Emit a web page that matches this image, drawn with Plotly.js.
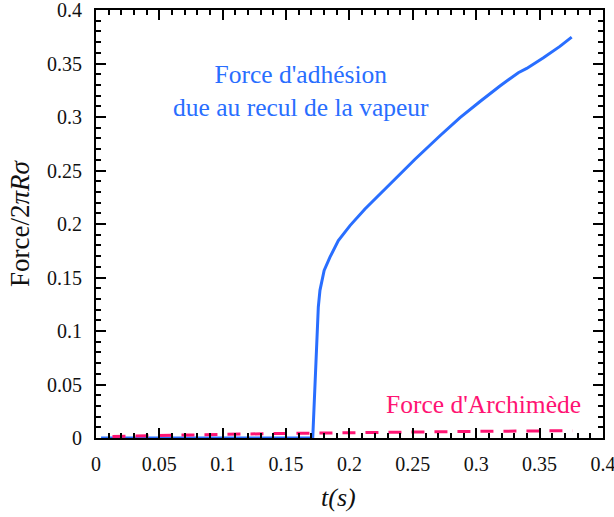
<!DOCTYPE html>
<html>
<head>
<meta charset="utf-8">
<script src="https://cdn.plot.ly/plotly-3.0.1.min.js"></script>
<style>html,body{margin:0;padding:0;background:#fff;}#chart{width:614px;height:517px;}</style>
</head>
<body>
<div id="chart"></div>
<script>
// Adhesion force due to vapour recoil
const adhesionT = [0.004, 0.171, 0.1754, 0.1767, 0.180, 0.1846, 0.1912, 0.2004, 0.2122, 0.2254, 0.2385, 0.2517, 0.2714, 0.2872, 0.303, 0.3187, 0.3332, 0.3398, 0.353, 0.366, 0.3753];
const adhesionF = [0, 0, 0.1224, 0.138, 0.1566, 0.169, 0.1845, 0.1985, 0.214, 0.2295, 0.245, 0.2605, 0.2825, 0.2995, 0.3145, 0.329, 0.3414, 0.3454, 0.3554, 0.366, 0.3746];
// Archimedes force
const archT = [0.013, 0.05, 0.1, 0.15, 0.2, 0.25, 0.3, 0.35, 0.376];
const archF = [0.0015, 0.0025, 0.0034, 0.0043, 0.0051, 0.0057, 0.0062, 0.0066, 0.0068];
// tick values
const tickVals = [0, 0.05, 0.1, 0.15, 0.2, 0.25, 0.3, 0.35, 0.4];
const tickText = ['0', '0.05', '0.1', '0.15', '0.2', '0.25', '0.3', '0.35', '0.4'];

const blue = 'rgb(41,110,255)';
const pink = 'rgb(255,20,115)';
const serif = "'Liberation Serif', 'Times New Roman', serif";

const traces = [
  {x: adhesionT, y: adhesionF, mode: 'lines', line: {color: blue, width: 3}, hoverinfo: 'skip'},
  {x: archT, y: archF, mode: 'lines', line: {color: pink, width: 3, dash: '13px,10px'}, hoverinfo: 'skip'}
];

function axis(extra) {
  return Object.assign({
    showline: true, linecolor: 'black', linewidth: 2, mirror: 'allticks',
    ticks: 'inside', ticklen: 10, tickwidth: 2, tickcolor: 'black',
    showgrid: false, zeroline: false, ticklabeloverflow: 'allow',
    tickmode: 'array', tickvals: tickVals, ticktext: tickText,
    tickfont: {family: serif, size: 20, color: '#111'},
    minor: {dtick: 0.01, tick0: 0, ticks: 'inside', ticklen: 5, tickwidth: 2, tickcolor: 'black', showgrid: false}
  }, extra);
}

const layout = {
  width: 614, height: 517,
  margin: {l: 96, r: 11, t: 10, b: 79},
  paper_bgcolor: 'white', plot_bgcolor: 'white',
  showlegend: false,
  font: {family: serif, color: '#111'},
  xaxis: axis({range: [0, 0.40001], ticklabelstandoff: 7}),
  yaxis: axis({
    range: [0, 0.40001], ticklabelstandoff: 8,
    title: {text: 'Force/2<i>πRσ</i>', font: {family: serif, size: 27, color: '#111'}, standoff: 10}
  }),
  annotations: [
    {x: 0.479, y: -0.14, xref: 'paper', yref: 'paper', xanchor: 'center', yanchor: 'middle', showarrow: false,
     text: '<i>t(s)</i>', font: {family: serif, size: 26, color: '#111'}},
    {x: 0.162, y: 0.324, xref: 'x', yref: 'y', showarrow: false, align: 'center',
     text: "Force d'adhésion<br>due au recul de la vapeur",
     font: {family: serif, size: 25.5, color: blue}},
    {x: 0.306, y: 0.031, xref: 'x', yref: 'y', showarrow: false,
     text: "Force d'Archimède", font: {family: serif, size: 25.5, color: pink}}
  ]
};

Plotly.newPlot('chart', traces, layout, {displayModeBar: false, staticPlot: true});
</script>
</body>
</html>
